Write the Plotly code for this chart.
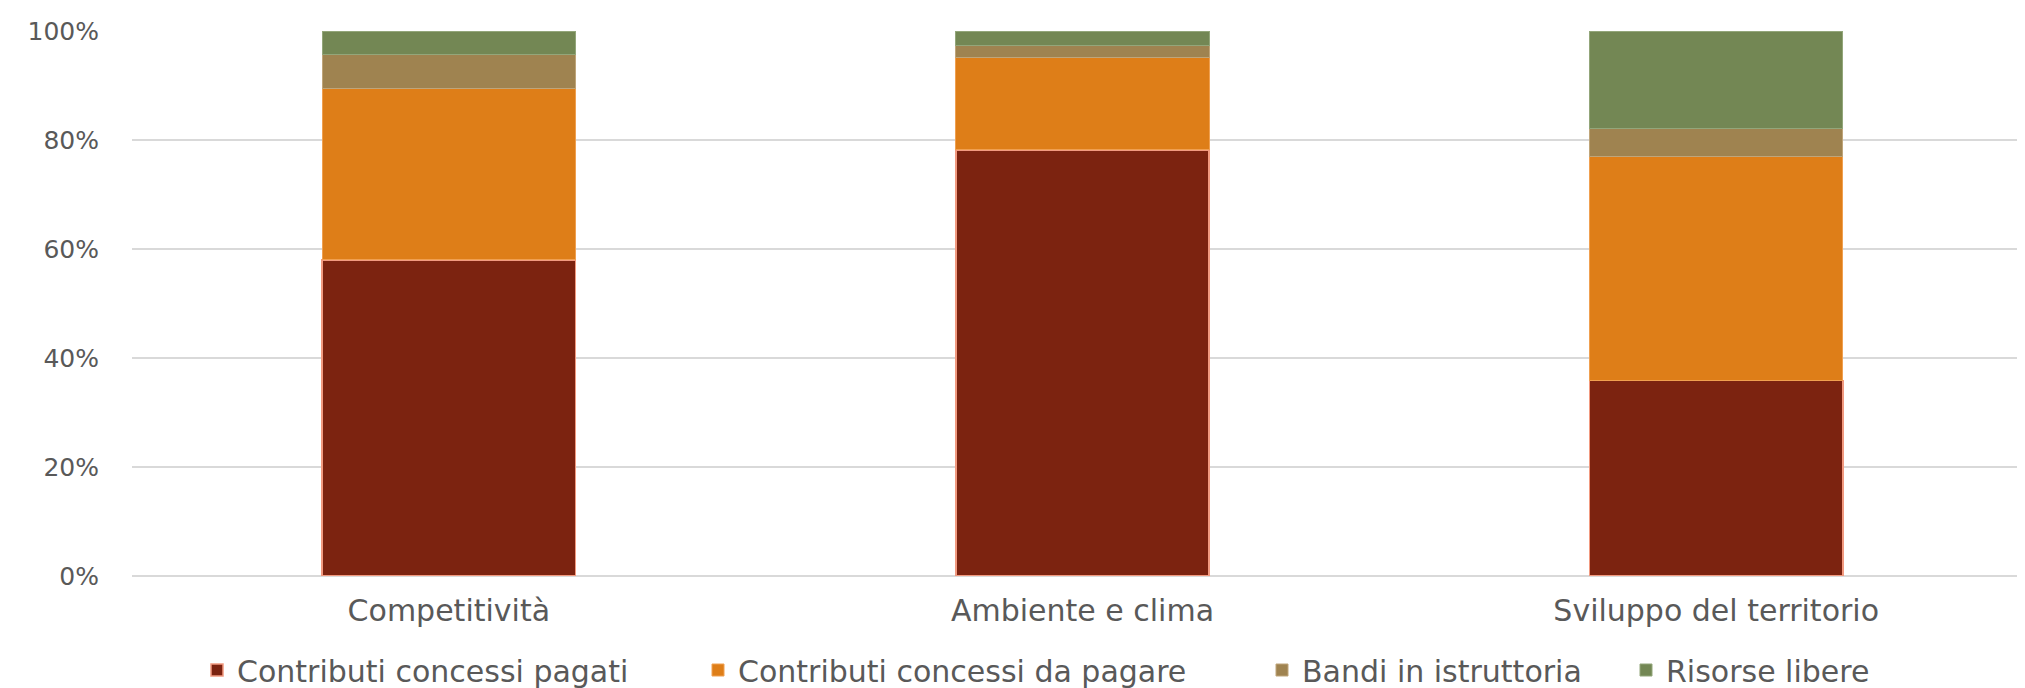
import plotly.graph_objects as go

# categories and stacked shares (%)
categories = ["Competitività", "Ambiente e clima", "Sviluppo del territorio"]
pagati = [58.0, 78.2, 35.9]
da_pagare = [31.5, 17.0, 41.1]
istruttoria = [6.2, 2.2, 5.2]
libere = [4.3, 2.6, 17.8]

series_names = ["Contributi concessi pagati", "Contributi concessi da pagare",
                "Bandi in istruttoria", "Risorse libere"]
y_ticks = [0, 20, 40, 60, 80, 100]
y_tick_labels = ["0%", "20%", "40%", "60%", "80%", "100%"]

FONT = "Century Gothic, DejaVu Sans, sans-serif"
TEXT = "#595959"
FS = 30

styles = [
    ("#7C2310", "#F29A80", 1.5),
    ("#DE7E18", "#F0A050", 1),
    ("#9F8350", "#BFA57A", 1),
    ("#738754", "#93A67A", 1),
]
# one legend per series so the entries can sit where the original puts them
legend_ids = ["legend", "legend2", "legend3", "legend4"]
legend_x_px = [189, 690, 1254, 1618]

fig = go.Figure()
for name, vals, (fill, edge, w), lg in zip(series_names, [pagati, da_pagare, istruttoria, libere],
                                           styles, legend_ids):
    fig.add_trace(go.Bar(
        x=categories,
        y=vals,
        name=name,
        legend=lg,
        showlegend=True,
        marker=dict(color=fill, line=dict(color=edge, width=w)),
        hovertemplate='%{x}<br>' + name + ': %{y:.1f}%<extra></extra>'
    ))

legends = {}
for lg, px in zip(legend_ids, legend_x_px):
    legends[lg] = dict(
        orientation="h",
        xref="container", yref="container",
        x=px / 2025, xanchor="left",
        y=1 - 662 / 688, yanchor="middle",
        font=dict(size=FS, color=TEXT),
        bgcolor="rgba(0,0,0,0)",
    )

fig.update_layout(
    barmode='stack',
    bargap=0.6,
    width=2025,
    height=688,
    showlegend=True,
    margin=dict(l=124, r=0, t=23, b=120, autoexpand=False),
    paper_bgcolor='white',
    plot_bgcolor='white',
    font=dict(family=FONT, size=FS, color=TEXT),
    xaxis=dict(
        showline=False,
        ticks="",
        automargin=False,
        ticklabelstandoff=14,
        tickfont=dict(size=FS, color=TEXT),
    ),
    yaxis=dict(
        range=[0, 100],
        tickvals=y_ticks,
        ticktext=y_tick_labels,
        automargin=False,
        showgrid=True,
        gridcolor="#D9D9D9",
        gridwidth=1.5,
        zeroline=True,
        zerolinecolor="#D9D9D9",
        zerolinewidth=1.5,
        ticklabelstandoff=32,
        tickfont=dict(size=25, color=TEXT),
    ),
    **legends,
)

fig.write_html("out.html")
